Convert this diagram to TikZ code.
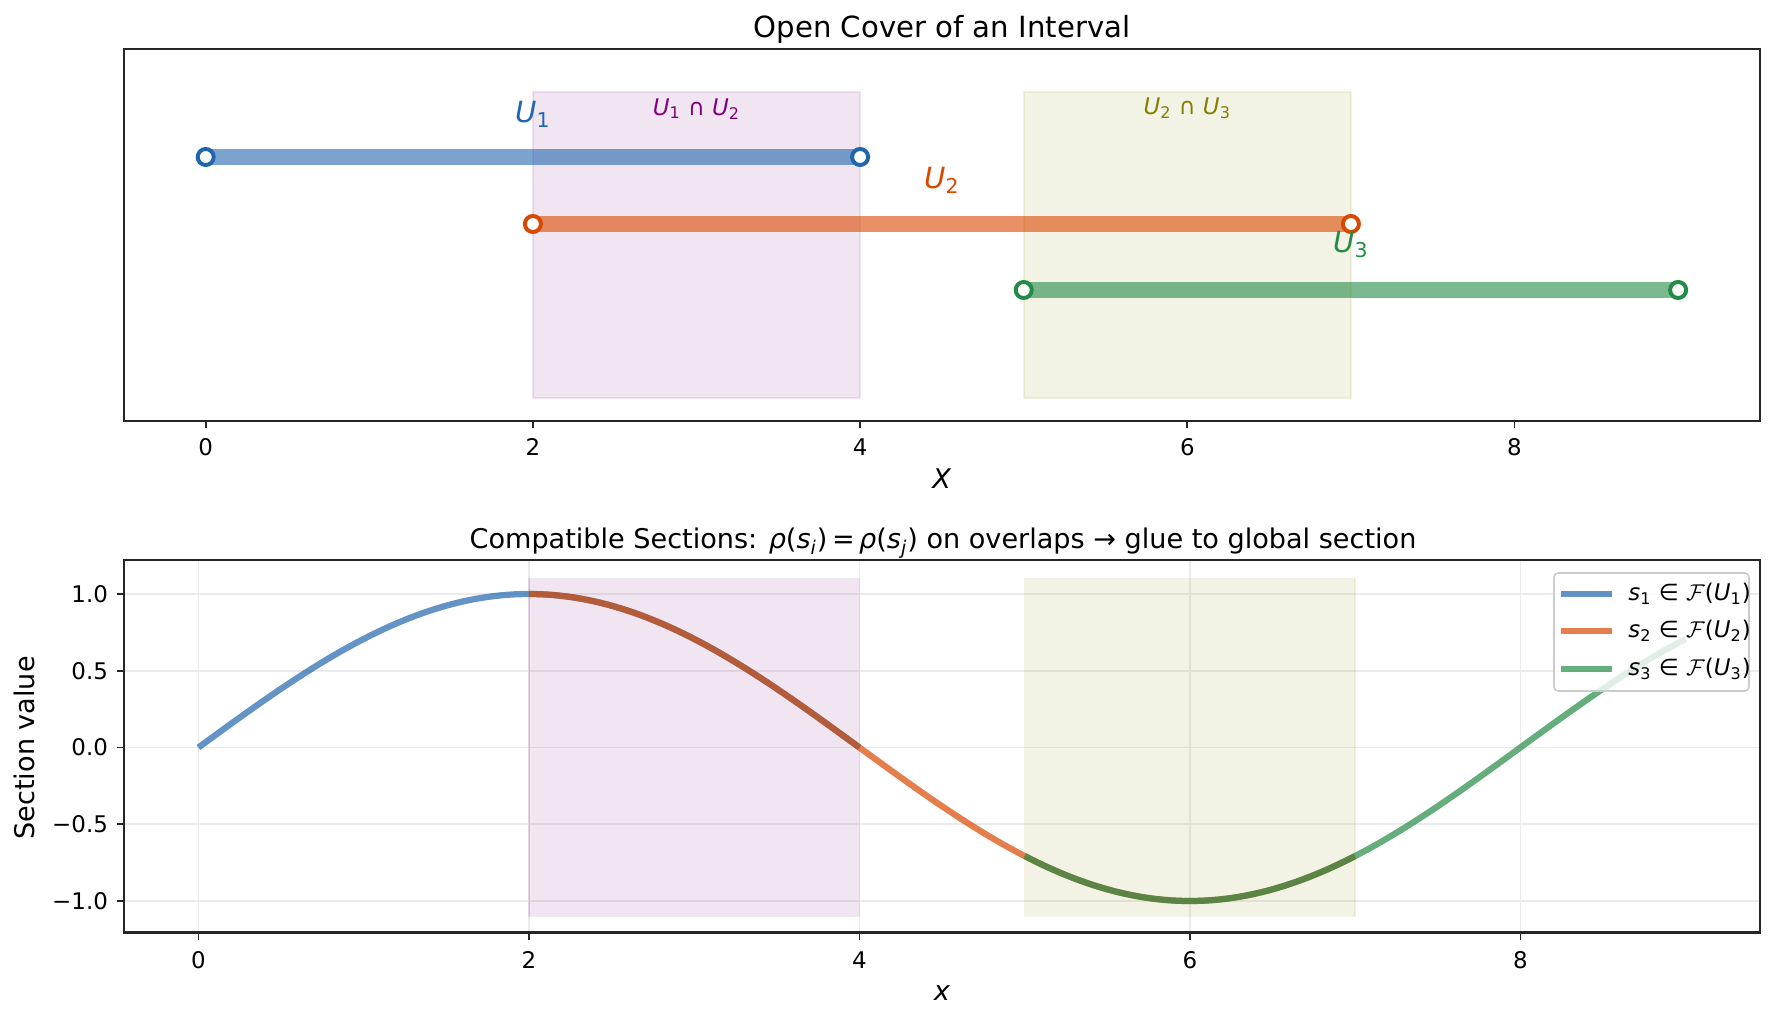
\documentclass[tikz,border=0pt]{standalone}
\usepackage{fontspec}
\setmainfont{DejaVu Sans}
\usetikzlibrary{positioning}
\definecolor{c1}{HTML}{2166AC}
\definecolor{c2}{HTML}{D94801}
\definecolor{c3}{HTML}{238B45}
\definecolor{mplpurple}{RGB}{128,0,128}
\definecolor{mplolive}{RGB}{128,128,0}
\definecolor{spinec}{RGB}{38,38,38}

\begin{document}
\begin{tikzpicture}[x=0.48pt,y=-0.48pt,
    ttl/.style={font=\fontsize{14}{16}\selectfont,anchor=base,inner sep=0pt},
    axlab/.style={font=\fontsize{13}{15}\selectfont,inner sep=0pt},
    ticklab/.style={font=\fontsize{11}{13}\selectfont,inner sep=0pt},
    setlab/.style={font=\fontsize{14}{16}\selectfont,inner sep=0pt},
    caplab/.style={font=\fontsize{11}{13}\selectfont,inner sep=0pt},
    spine/.style={draw=spinec,line width=1pt},
    tickmark/.style={draw=spinec,line width=0.8pt},
    gridln/.style={draw=black!8,line width=0.8pt},
    span/.style={fill=#1,fill opacity=0.1,draw=#1,draw opacity=0.1,line width=0.8pt},
    seg/.style={draw=#1,draw opacity=0.6,line width=7.7pt},
    endpt/.style={circle,draw=#1,fill=white,line width=1.9pt,
                  minimum size=7.7pt,inner sep=0pt},
    sect/.style={draw=#1,draw opacity=0.7,line width=3pt},
    legbox/.style={draw=black!20,fill=white,fill opacity=0.8,rounded corners=2pt,line width=0.8pt}]
  \useasboundingbox (0,0) rectangle (1775,1021);

  % open cover
  \node[ttl] (t1) at (942,38) {Open Cover of an Interval};
  \fill[span=mplpurple] ({205.7+163.6*2},92) rectangle ({205.7+163.6*4},398);
  \fill[span=mplolive] ({205.7+163.6*5},92) rectangle ({205.7+163.6*7},398);
  \node[caplab,text=mplpurple] (i12) at ({205.7+163.6*3},108.7) {\textit{U}\textsubscript{1} ∩ \textit{U}\textsubscript{2}};
  \node[caplab,text=mplolive] (i23) at ({205.7+163.6*6},108.7) {\textit{U}\textsubscript{2} ∩ \textit{U}\textsubscript{3}};
  \foreach \n/\a/\b/\y/\dy in {1/0/4/157/114.3,2/2/7/224/180,3/5/9/290/244.5}{
    \coordinate (l\n) at ({205.7+163.6*\a},\y);
    \coordinate (r\n) at ({205.7+163.6*\b},\y);
    \draw[seg=c\n] (l\n) -- (r\n);
    \node[endpt=c\n] (pl\n) at (l\n) {};
    \node[endpt=c\n] (pr\n) at (r\n) {};
    \node[setlab,text=c\n] (u\n) at ({205.7+163.6*(\a+\b)/2},\dy) {\textit{U}\textsubscript{\n}};
  }
  \draw[spine] (124,49) rectangle (1760,421);
  \foreach \k in {0,2,4,6,8}{
    \draw[tickmark] ({205.7+163.6*\k},421) -- ({205.7+163.6*\k},428.3);
    \node[ticklab] (xa\k) at ({205.7+163.6*\k},446.7) {\k};
  }
  \node[axlab] (xl1) at (942,479) {\textit{X}};

  % sections
  \node[ttl,font=\fontsize{13}{15}\selectfont] (t2) at (943,548.3) {Compatible Sections: \textit{ρ}(\textit{s}\textsubscript{\textit{i}})\,=\,\textit{ρ}(\textit{s}\textsubscript{\textit{j}}) on overlaps → glue to global section};
  \foreach \k in {0,2,4,6,8}
    \draw[gridln] ({198.4+165.25*\k},560) -- ({198.4+165.25*\k},932.5);
  \foreach \v in {-1,-0.5,0,0.5,1}
    \draw[gridln] (124,{747.5-153.5*\v}) -- (1760,{747.5-153.5*\v});
  \fill[span=mplpurple] ({198.4+165.25*2},{747.5-153.5*1.1}) rectangle ({198.4+165.25*4},{747.5+153.5*1.1});
  \fill[span=mplolive] ({198.4+165.25*5},{747.5-153.5*1.1}) rectangle ({198.4+165.25*7},{747.5+153.5*1.1});
  \foreach \n/\a/\b in {1/0/4,2/2/7,3/5/9}
    \draw[sect=c\n] plot[domain=\a:\b,samples=70,smooth] ({198.4+165.25*\x},{747.5-153.5*sin(45*\x)});
  \draw[legbox] (1554,573) rectangle (1749,691);
  \foreach \n/\y in {1/593.7,2/630.7,3/668.7}{
    \coordinate (ha\n) at (1561,\y);
    \coordinate (hb\n) at (1612,\y);
    \draw[sect=c\n] (ha\n) -- (hb\n);
    \node[caplab,anchor=west] (lg\n) at (1628,\y) {\textit{s}\textsubscript{\n} ∈ $\mathcal{F}$(\textit{U}\textsubscript{\n})};
  }
  \draw[spine] (124,560) rectangle (1760,932.5);
  \foreach \k in {0,2,4,6,8}{
    \draw[tickmark] ({198.4+165.25*\k},932.5) -- ({198.4+165.25*\k},939.8);
    \node[ticklab] (xb\k) at ({198.4+165.25*\k},959.7) {\k};
  }
  \foreach \v/\t in {1/1.0,0.5/0.5,0/0.0,-0.5/−0.5,-1/−1.0}{
    \draw[tickmark] (124,{747.5-153.5*\v}) -- (116.7,{747.5-153.5*\v});
    \node[ticklab,anchor=east] (ya\t) at (108.3,{747.5-153.5*\v}) {\t};
  }
  \node[axlab] (xl2) at (942,993) {\textit{x}};
  \node[axlab,rotate=90] (yl2) at (24.2,747.8) {Section value};
\end{tikzpicture}
\end{document}
